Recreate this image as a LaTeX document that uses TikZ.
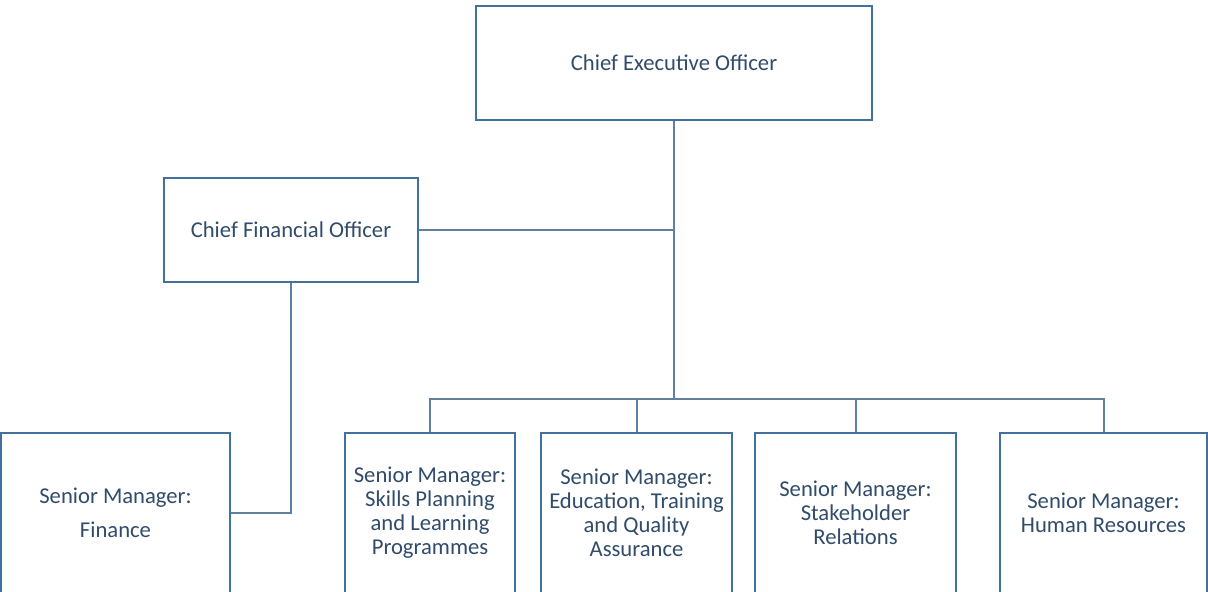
\documentclass[tikz,border=0pt]{standalone}
\usepackage{fontspec}
\setmainfont{Carlito}
\usepackage{xcolor}
\usepackage{tikz}
\usetikzlibrary{calc}
\definecolor{boxline}{RGB}{65,113,156}
\definecolor{conline}{RGB}{96,128,162}
\definecolor{boxtext}{RGB}{48,76,106}
\tikzset{
  box/.style  ={draw=boxline, line width=0.05cm, fill=white, inner sep=2pt, align=center,
                text=boxtext, font=\fontsize{16.1}{17.1}\selectfont},
  conn/.style ={draw=conline, line width=0.05cm},
}
\begin{document}
\begin{tikzpicture}[x=0.025cm,y=-0.025cm]
  \useasboundingbox (0,0) rectangle (1208,591);
  \clip (0,0) rectangle (1208,591);
  % top level
  \node[box,minimum width=9.9cm,minimum height=2.85cm] (ceo) at (674,63) {Chief Executive Officer};
  \node[box,minimum width=6.35cm,minimum height=2.6cm] (cfo) at (291,230) {Chief Financial Officer};
  % senior managers, bottom edge runs off the page
  \node[box,minimum width=5.725cm,minimum height=4cm] (fin) at (115.5,513) {Senior Manager:\\[0.25cm]Finance};
  \node[box,minimum width=4.25cm,minimum height=4cm] (skills) at (430,513) {Senior Manager:\\Skills Planning\\and Learning\\Programmes};
  \node[box,minimum width=4.775cm,minimum height=4cm] (etq) at (636.5,513) {Senior Manager:\\Education, Training\\and Quality\\Assurance};
  \node[box,minimum width=5.025cm,minimum height=4cm] (stake) at (855.5,513) {Senior Manager:\\Stakeholder\\Relations};
  \node[box,minimum width=5.175cm,minimum height=4cm] (hr) at (1103.5,513) {Senior Manager:\\Human Resources};
  \coordinate (bus) at (674,399);
  % reporting lines
  \draw[conn] (ceo.south) -- (bus);
  \draw[conn] (cfo.east) -- (cfo.east -| ceo.south);
  \draw[conn] (cfo.south) |- (fin.east);
  \draw[conn] (skills.north) -- (skills.north |- bus) -- (hr.north |- bus) -- (hr.north);
  \draw[conn] (etq.north) -- (etq.north |- bus);
  \draw[conn] (stake.north) -- (stake.north |- bus);
\end{tikzpicture}
\end{document}
